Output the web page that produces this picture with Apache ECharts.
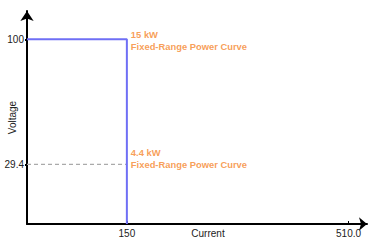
<!DOCTYPE html>
<html>
<head>
<meta charset="utf-8">
<style>
  html, body { margin: 0; padding: 0; background: #fff; }
  #chart { width: 368px; height: 240px; }
</style>
<script src="https://cdn.jsdelivr.net/npm/echarts@6/dist/echarts.min.js"></script>
</head>
<body>
<div id="chart"></div>
<script>
(function() {
  var ink = '#222';
  var orange = '#f5862e';
  var blue = '#6f6ff5';

  // 数据
  var powerCurve = [[-12.2, 100], [150, 100], [150, -4.2]];
  var lowVoltageLine = [[-12.2, 29.4], [150, 29.4]];
  var xTicks = [150, 510];
  var yTicks = [29.4, 100];
  var curveLabels = [
    { point: [150, 100], text: '15 kW\nFixed-Range Power Curve', offset: [0, 1] },
    { point: [150, 29.4], text: '4.4 kW\nFixed-Range Power Curve', offset: [0, -6] }
  ];

  var chart = echarts.init(document.getElementById('chart'), null, { renderer: 'svg' });
  chart.setOption({
    animation: false,
    textStyle: { fontFamily: 'Liberation Sans, Arial, sans-serif' },
    grid: { left: 27, right: 1, top: 11, bottom: 16, containLabel: false, outerBoundsMode: 'none' },
    xAxis: {
      type: 'value',
      min: -12.2,
      max: 540,
      name: 'Current',
      nameLocation: 'middle',
      nameGap: 4,
      nameMoveOverlap: false,
      nameTextStyle: { color: ink, fontSize: 10, padding: [0, 0, 0, 22] },
      axisLine: { lineStyle: { color: '#000', width: 2 }, symbol: ['none', 'arrow'], symbolSize: [10, 8], onZero: false },
      axisTick: { show: true, inside: true, length: 3, lineStyle: { color: '#000' }, customValues: xTicks },
      axisLabel: {
        color: ink, fontSize: 10, margin: 4, customValues: xTicks,
        formatter: function(v) { return v === 510 ? '510.0' : String(v); }
      },
      splitLine: { show: false }
    },
    yAxis: {
      type: 'value',
      min: -4.2,
      max: 116,
      name: 'Voltage',
      nameLocation: 'middle',
      nameGap: 10,
      nameMoveOverlap: false,
      nameTextStyle: { color: ink, fontSize: 10 },
      axisLine: { lineStyle: { color: '#000', width: 2 }, symbol: ['none', 'arrow'], symbolSize: [10, 10], onZero: false },
      axisTick: { show: true, length: 2, lineStyle: { color: '#000', width: 2 }, customValues: yTicks },
      axisLabel: { color: ink, fontSize: 10, margin: 3, customValues: yTicks },
      splitLine: { show: false }
    },
    series: [
      {
        type: 'line',
        data: lowVoltageLine,
        symbol: 'none',
        lineStyle: { color: '#aaa', width: 1.2, type: [4, 3] },
        silent: true
      },
      {
        type: 'line',
        data: powerCurve,
        symbol: 'none',
        lineStyle: { color: blue, width: 2 },
        silent: true
      },
      {
        type: 'scatter',
        symbolSize: 0,
        data: curveLabels.map(function(c) {
          return {
            value: c.point,
            label: {
              show: true,
              position: 'right',
              distance: 4,
              offset: c.offset,
              formatter: c.text,
              color: orange,
              fontSize: 9.4,
              fontWeight: 'bold',
              lineHeight: 11.5
            }
          };
        }),
        silent: true
      }
    ]
  });
})();
</script>
</body>
</html>
